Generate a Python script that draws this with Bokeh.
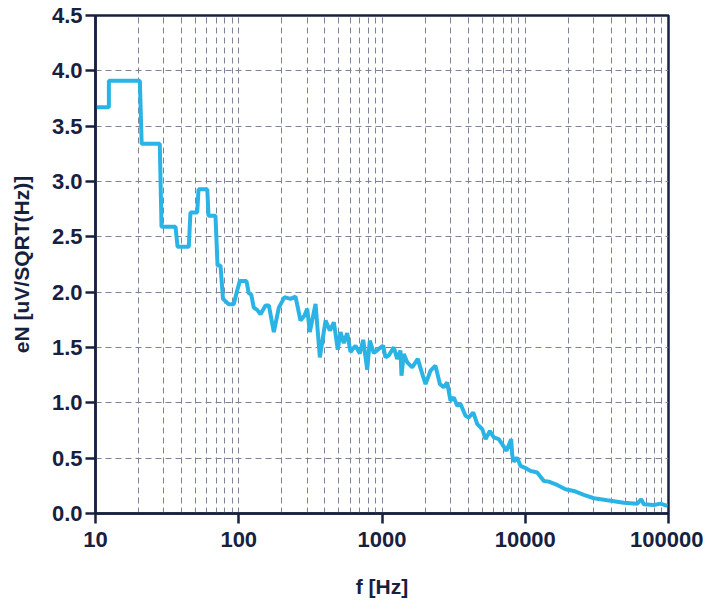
from bokeh.plotting import figure
from bokeh.models import Range1d, FixedTicker, ColumnDataSource
from bokeh.embed import file_html
from bokeh.resources import INLINE

# ---- data ----
freq_hz = [10, 12.4, 12.4, 20.4, 21.0, 28.1, 28.9, 36.2, 37.4, 44.8, 46.0, 51.3, 52.4,
           60.3, 61.5, 68.8, 71.1, 74.6, 77.6, 85.2, 92.3, 96.4, 101.7, 113.2, 117.5,
           122.1, 127.3, 134.5, 141.9, 153.8, 162.2, 175.8, 190.5, 208.6, 229.7, 249.0,
           269.8, 287.8, 300.6, 313.4, 343.6, 368.3, 403.6, 432.5, 461.3, 491.4, 513.2,
           541.1, 571.3, 602.6, 653.0, 699.8, 739.3, 788.5, 822.0, 876.9, 950.6, 1019,
           1057, 1115, 1209, 1276, 1346, 1368, 1419, 1500, 1625, 1778, 1879, 2014, 2183,
           2361, 2535, 2698, 2851, 3006, 3170, 3350, 3532, 3828, 4036, 4335, 4624, 5010,
           5284, 5664, 6039, 6531, 6902, 7396, 7978, 8110, 8318, 8790, 9268, 9886, 10890,
           12110, 13490, 14590, 16710, 19100, 21830, 25650, 30130, 37350, 48760, 60500,
           64450, 67250, 78950, 87900, 98000]
en_uv = [3.67, 3.67, 3.91, 3.91, 3.34, 3.34, 2.59, 2.59, 2.41, 2.41, 2.72, 2.72, 2.93,
         2.93, 2.69, 2.69, 2.24, 2.24, 1.94, 1.89, 1.89, 1.99, 2.10, 2.10, 1.99,
         1.98, 1.86, 1.84, 1.80, 1.88, 1.88, 1.64, 1.86, 1.955, 1.94, 1.96,
         1.744, 1.79, 1.85, 1.64, 1.895, 1.41, 1.744, 1.653, 1.728, 1.48, 1.64,
         1.54, 1.63, 1.46, 1.517, 1.445, 1.569, 1.30, 1.562, 1.45, 1.487, 1.517,
         1.411, 1.427, 1.502, 1.397, 1.472, 1.245, 1.442, 1.366, 1.321, 1.397, 1.291, 1.17, 1.291,
         1.336, 1.17, 1.14, 1.185, 1.02, 1.049, 0.974, 0.989, 0.883, 0.868, 0.913, 0.808, 0.763,
         0.672, 0.745, 0.687, 0.672, 0.627, 0.566, 0.672, 0.53, 0.469, 0.505, 0.43, 0.415, 0.385,
         0.37, 0.294, 0.288, 0.258, 0.219, 0.204, 0.168, 0.138, 0.12, 0.098, 0.089,
         0.129, 0.083, 0.077, 0.089, 0.068]

x_major_ticks = [10, 100, 1000, 10000, 100000]
x_tick_labels = ["10", "100", "1000", "10000", "100000"]
x_minor_ticks = [m * d for d in [10, 100, 1000, 10000] for m in range(2, 10)]
y_ticks = [0.0, 0.5, 1.0, 1.5, 2.0, 2.5, 3.0, 3.5, 4.0, 4.5]
y_tick_labels = ["0.0", "0.5", "1.0", "1.5", "2.0", "2.5", "3.0", "3.5", "4.0", "4.5"]

NAVY = "#17213f"
GRID = "#7d8298"
LINE = "#2ab4e6"
FONT = "Liberation Sans"

p = figure(width=703, height=602, x_axis_type="log",
           x_range=Range1d(10, 100000), y_range=Range1d(0, 4.5),
           output_backend="svg", toolbar_location=None,
           min_border_left=95, min_border_right=35, min_border_top=15, min_border_bottom=89)
p.background_fill_color = "white"
p.border_fill_color = "white"
p.outline_line_color = NAVY
p.outline_line_width = 2.5

src = ColumnDataSource(dict(f=freq_hz, en=en_uv))
p.line("f", "en", source=src, line_color=LINE, line_width=4)

# axes
p.xaxis.ticker = FixedTicker(ticks=x_major_ticks, minor_ticks=[])
p.xaxis.major_label_overrides = {t: s for t, s in zip(x_major_ticks, x_tick_labels)}
p.yaxis.ticker = FixedTicker(ticks=y_ticks, minor_ticks=[])
p.yaxis.major_label_overrides = {t: s for t, s in zip(y_ticks, y_tick_labels)}

for ax in (p.xaxis[0], p.yaxis[0]):
    ax.axis_line_color = NAVY
    ax.axis_line_width = 2.5
    ax.major_tick_line_color = NAVY
    ax.major_tick_line_width = 2.5
    ax.major_tick_out = 10
    ax.major_tick_in = 0
    ax.minor_tick_out = 0
    ax.minor_tick_in = 0
    ax.major_label_text_font = FONT
    ax.major_label_text_font_style = "bold"
    ax.major_label_text_font_size = "22px"
    ax.major_label_text_color = NAVY
    ax.axis_label_text_font = FONT
    ax.axis_label_text_font_style = "bold"
    ax.axis_label_text_font_size = "21px"
    ax.axis_label_text_color = NAVY

p.xaxis.axis_label = "f [Hz]"
p.yaxis.axis_label = "eN [uV/SQRT(Hz)]"
p.xaxis.major_label_standoff = 8
p.xaxis.axis_label_standoff = 25
p.yaxis.major_label_standoff = 3
p.yaxis.axis_label_standoff = 16

# grids
p.xgrid.ticker = FixedTicker(ticks=sorted(x_minor_ticks + x_major_ticks))
p.ygrid.ticker = FixedTicker(ticks=y_ticks)
for g in (p.xgrid[0], p.ygrid[0]):
    g.grid_line_color = GRID
    g.grid_line_width = 1
    g.grid_line_dash = "6 4"

open("out.html", "w").write(file_html(p, INLINE))
